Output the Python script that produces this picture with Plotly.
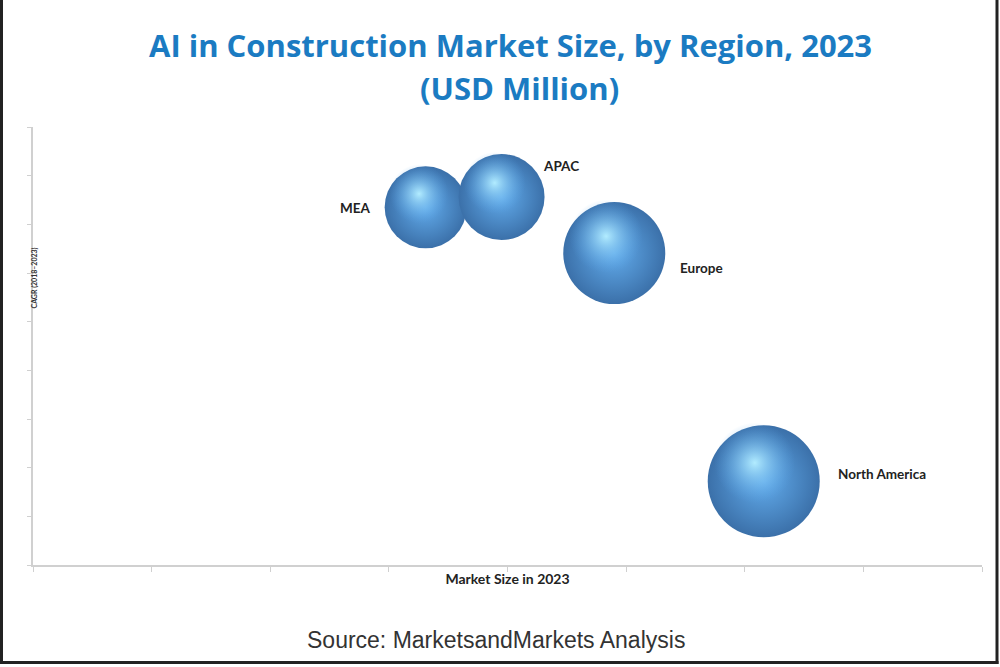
import plotly.graph_objects as go

# ---- data ----
regions = ["MEA", "APAC", "Europe", "North America"]
market_size = [3.31, 3.95, 4.90, 6.16]      # x position (axis units 0-8)
cagr = [7.35, 7.56, 6.41, 1.72]             # y position (axis units 0-9)
bubble_value = [41, 43, 51, 56]             # relative bubble size

title_line1 = "AI in Construction Market Size, by Region, 2023"
title_line2 = "(USD Million)"
x_title = "Market Size in 2023"
y_title = "CAGR (2018–2023)"
source_text = "Source: MarketsandMarkets Analysis"

W, H = 1000, 667
L, R, T, B = 33, 18, 127, 102
X_RANGE = [0, 8]
Y_RANGE = [0, 9]
PW, PH = W - L - R, H - T - B
px_x = PW / (X_RANGE[1] - X_RANGE[0])
px_y = PH / (Y_RANGE[1] - Y_RANGE[0])
SIZEREF = 0.5  # diameter = value / sizeref


def px2paper_x(p):
    return (p - L) / PW


def px2paper_y(p):
    return (H - B - p) / PH


fig = go.Figure()

# base spheres (radial gradient: gradient.color = centre, marker.color = edge)
fig.add_trace(go.Scatter(
    x=market_size, y=cagr, mode="markers",
    marker=dict(size=bubble_value, sizemode="diameter", sizeref=SIZEREF,
                color="#3b70a9", opacity=1,
                gradient=dict(type="radial", color="#62acec"),
                line=dict(width=0)),
    hoverinfo="text", text=regions, showlegend=False,
))

# highlight (offset up-left from each sphere centre, derived via axis scale)
hx, hy, hs = [], [], []
for x, y, v in zip(market_size, cagr, bubble_value):
    r = v / SIZEREF / 2
    hx.append(x - 0.16 * r / px_x)
    hy.append(y + 0.33 * r / px_y)
    hs.append(v * 0.72)
fig.add_trace(go.Scatter(
    x=hx, y=hy, mode="markers",
    marker=dict(size=hs, sizemode="diameter", sizeref=SIZEREF,
                color="rgba(90,165,232,0)", opacity=1,
                gradient=dict(type="radial", color="rgba(178,236,255,1)"),
                line=dict(width=0)),
    hoverinfo="skip", showlegend=False,
))

# region labels
label_style = {
    "MEA": dict(xanchor="right", xshift=-53, yshift=-1),
    "APAC": dict(xanchor="left", xshift=39, yshift=31),
    "Europe": dict(xanchor="left", xshift=64, yshift=-15),
    "North America": dict(xanchor="left", xshift=72, yshift=7),
}
for name, x, y in zip(regions, market_size, cagr):
    st = label_style[name]
    fig.add_annotation(x=x, y=y, xref="x", yref="y", text=f"<b>{name}</b>",
                       showarrow=False, font=dict(family="Lato", size=13.5, color="#222"),
                       **st)

# title lines
fig.add_annotation(xref="paper", yref="paper", x=px2paper_x(511), y=px2paper_y(45),
                   text=f"<b>{title_line1}</b>", showarrow=False, yanchor="middle",
                   font=dict(family="Open Sans", size=31, color="#1b7bc2"))
fig.add_annotation(xref="paper", yref="paper", x=px2paper_x(519), y=px2paper_y(88),
                   text=f"<b>{title_line2}</b>", showarrow=False, yanchor="middle",
                   font=dict(family="Open Sans", size=31, color="#1b7bc2"))

# y-axis title (rotated, small)
fig.add_annotation(xref="paper", yref="paper",
                   x=px2paper_x(27), y=px2paper_y(278),
                   text=f"<b>{y_title}</b>", textangle=-90, showarrow=False,
                   font=dict(family="Lato", size=7, color="#333"))

# source
fig.add_annotation(xref="paper", yref="paper",
                   x=px2paper_x(496), y=px2paper_y(640),
                   text=source_text, showarrow=False, yanchor="middle",
                   font=dict(family="Liberation Sans", size=23, color="#333"))

# outer frame
frame = dict(color="#222", width=3)
fig.add_shape(type="line", xref="paper", yref="paper",
              x0=px2paper_x(1.5), x1=px2paper_x(1.5), y0=px2paper_y(0), y1=px2paper_y(664),
              line=frame)
fig.add_shape(type="line", xref="paper", yref="paper",
              x0=px2paper_x(997), x1=px2paper_x(997), y0=px2paper_y(0), y1=px2paper_y(664),
              line=frame)
fig.add_shape(type="line", xref="paper", yref="paper",
              x0=px2paper_x(0), x1=px2paper_x(998.5), y0=px2paper_y(662.5), y1=px2paper_y(662.5),
              line=frame)

fig.update_layout(
    width=W, height=H,
    margin=dict(l=L, r=R, t=T, b=B, autoexpand=False),
    paper_bgcolor="white", plot_bgcolor="white",
    xaxis=dict(range=X_RANGE, dtick=1, showgrid=False, zeroline=False,
               showline=True, linecolor="#d0d0d0", linewidth=1.5,
               ticks="outside", ticklen=5, tickcolor="#d0d0d0",
               showticklabels=False,
               title=dict(text=f"<b>{x_title}</b>", standoff=3,
                          font=dict(family="Lato", size=14, color="#222"))),
    yaxis=dict(range=Y_RANGE, dtick=1, showgrid=False, zeroline=False,
               showline=True, linecolor="#d0d0d0", linewidth=1.5,
               ticks="outside", ticklen=4, tickcolor="#d0d0d0",
               showticklabels=False),
)

fig.write_html("out.html", config={"displayModeBar": False},
               post_script="document.body.style.margin='0';")
